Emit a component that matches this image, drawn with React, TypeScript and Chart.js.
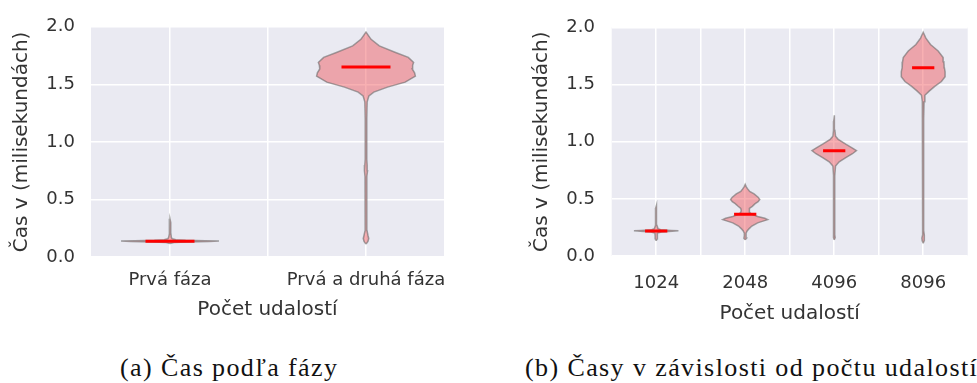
import { useEffect, useRef } from 'react';
import { Chart, registerables } from 'chart.js';

Chart.register(...registerables);

// ---------- data ----------
const leftCategories = ['Prvá fáza', 'Prvá a druhá fáza'];
const leftGridPositions = [0, 0.5, 1];
const leftMedians = [0.137, 1.651];
// violin outlines: time values (ms) and half-widths (category units)
const leftViolinValues = [
  [0.118, 0.126, 0.131, 0.135, 0.138, 0.141, 0.145, 0.15, 0.158, 0.17, 0.2, 0.26, 0.3, 0.332],
  [0.112, 0.135, 0.16, 0.19, 0.232, 0.3, 0.5, 0.7, 0.75, 0.8, 0.85, 1.0, 1.2, 1.348, 1.4, 1.433, 1.476, 1.519, 1.571, 1.6, 1.634, 1.665, 1.691, 1.734, 1.777, 1.834, 1.891, 1.954],
];
const leftViolinWidths = [
  [0, 0.02, 0.09, 0.2, 0.25, 0.18, 0.08, 0.03, 0.012, 0.007, 0.005, 0.004, 0.004, 0],
  [0, 0.01, 0.014, 0.01, 0.005, 0.004, 0.004, 0.005, 0.008, 0.006, 0.004, 0.004, 0.004, 0.006, 0.015, 0.04, 0.11, 0.2, 0.252, 0.248, 0.236, 0.238, 0.243, 0.216, 0.151, 0.068, 0.026, 0],
];

const rightCategories = ['1024', '2048', '4096', '8096'];
const rightGridPositions = [0, 0.5, 1, 1.5, 2, 2.5, 3];
const rightMedians = [0.219, 0.366, 0.922, 1.648];
const rightViolinValues = [
  [0.135, 0.15, 0.175, 0.2, 0.21, 0.216, 0.22, 0.224, 0.23, 0.24, 0.27, 0.35, 0.42, 0.445],
  [0.141, 0.155, 0.175, 0.2, 0.219, 0.24, 0.262, 0.29, 0.305, 0.318, 0.33, 0.346, 0.366, 0.382, 0.4, 0.416, 0.435, 0.458, 0.475, 0.495, 0.515, 0.543, 0.565, 0.585, 0.605, 0.627],
  [0.141, 0.16, 0.177, 0.25, 0.5, 0.7, 0.788, 0.824, 0.861, 0.895, 0.922, 0.945, 0.979, 1.021, 1.049, 1.1, 1.18, 1.232],
  [0.112, 0.135, 0.158, 0.185, 0.219, 0.4, 0.8, 1.2, 1.35, 1.407, 1.443, 1.485, 1.527, 1.57, 1.612, 1.648, 1.668, 1.7, 1.738, 1.795, 1.851, 1.907, 1.958],
];
const rightViolinWidths = [
  [0, 0.012, 0.012, 0.015, 0.06, 0.18, 0.25, 0.17, 0.05, 0.02, 0.008, 0.007, 0.006, 0],
  [0, 0.015, 0.01, 0.01, 0.022, 0.045, 0.075, 0.14, 0.2, 0.252, 0.22, 0.14, 0.07, 0.05, 0.045, 0.05, 0.08, 0.112, 0.145, 0.164, 0.145, 0.1, 0.05, 0.03, 0.012, 0],
  [0, 0.011, 0.008, 0.006, 0.006, 0.007, 0.015, 0.056, 0.13, 0.205, 0.25, 0.205, 0.13, 0.045, 0.015, 0.008, 0.006, 0],
  [0, 0.012, 0.015, 0.01, 0.006, 0.005, 0.005, 0.006, 0.01, 0.019, 0.067, 0.13, 0.205, 0.246, 0.246, 0.238, 0.235, 0.232, 0.224, 0.168, 0.082, 0.03, 0],
];

const yTickValues = [0, 0.5, 1, 1.5, 2];
const medianHalfWidth = 0.125;
const xTitle = 'Počet udalostí';
const yTitle = 'Čas v (milisekundách)';
const captionA = '(a) Čas podľa fázy';
const captionB = '(b) Časy v závislosti od počtu udalostí';

// ---------- styles ----------
const FONT = 'DejaVu Sans';
const TEXT = '#333333';
const PLOT_BG = '#EAEAF2';
const FILL = 'rgba(240, 80, 85, 0.45)';
const OUTLINE = 'rgba(105, 105, 105, 0.6)';

const bgPlugin = {
  id: 'plotBg',
  beforeDraw(chart: any) {
    const { ctx, chartArea } = chart;
    ctx.save();
    ctx.fillStyle = PLOT_BG;
    ctx.fillRect(chartArea.left, chartArea.top, chartArea.right - chartArea.left, chartArea.bottom - chartArea.top);
    ctx.restore();
  },
};

function buildDatasets(medians: number[], values: number[][], widths: number[][]) {
  const ds: any[] = [];
  medians.forEach((m, i) => {
    ds.push({
      data: [{ x: i - medianHalfWidth, y: m }, { x: i + medianHalfWidth, y: m }],
      showLine: true,
      borderColor: '#ff0000',
      borderWidth: 3,
      pointRadius: 0,
      fill: false,
      order: 1,
    });
  });
  values.forEach((vals, i) => {
    const ws = widths[i];
    const rightSide = vals.map((v, k) => ({ x: i + ws[k], y: v }));
    const leftSide = vals.map((v, k) => ({ x: i - ws[k], y: v })).reverse();
    ds.push({
      data: [...rightSide, ...leftSide, rightSide[0]],
      showLine: true,
      fill: 'shape',
      backgroundColor: FILL,
      borderColor: OUTLINE,
      borderWidth: 1.5,
      pointRadius: 0,
      tension: 0,
      order: 2,
    });
  });
  return ds;
}

type PanelProps = {
  left: number;
  width: number;
  height: number;
  categories: string[];
  gridPositions: number[];
  medians: number[];
  values: number[][];
  widths: number[][];
  xMin: number;
  xMax: number;
  padding: { left: number; right: number; top: number; bottom: number };
  yAxisWidth: number;
  xAxisHeight: number;
  xTickPadding: number;
  xTitlePadding: number;
  yTickPadding: number;
  yTitlePadding: number;
};

function ViolinPanel(p: PanelProps) {
  const ref = useRef<HTMLCanvasElement>(null);
  useEffect(() => {
    if (!ref.current) return;
    const chart = new Chart(ref.current, {
      type: 'scatter',
      data: { datasets: buildDatasets(p.medians, p.values, p.widths) },
      options: {
        responsive: false,
        animation: false,
        events: [],
        layout: { padding: p.padding },
        plugins: { legend: { display: false }, tooltip: { enabled: false } },
        scales: {
          x: {
            type: 'linear',
            min: p.xMin,
            max: p.xMax,
            afterBuildTicks: (s: any) => {
              s.ticks = p.gridPositions.map((v) => ({ value: v }));
            },
            afterFit: (s: any) => {
              s.height = p.xAxisHeight;
            },
            grid: { color: '#ffffff', lineWidth: 1.5, drawTicks: false },
            border: { display: false },
            ticks: {
              autoSkip: false,
              maxRotation: 0,
              padding: p.xTickPadding,
              color: TEXT,
              font: { family: FONT, size: 18 },
              callback: (v: any) => (Number.isInteger(v) ? p.categories[v] : ''),
            },
            title: {
              display: true,
              text: xTitle,
              color: TEXT,
              font: { family: FONT, size: 20 },
              padding: { top: 0, bottom: p.xTitlePadding },
            },
          },
          y: {
            type: 'linear',
            min: 0,
            max: 2,
            afterBuildTicks: (s: any) => {
              s.ticks = yTickValues.map((v) => ({ value: v }));
            },
            afterFit: (s: any) => {
              s.width = p.yAxisWidth;
            },
            grid: { color: '#ffffff', lineWidth: 1.5, drawTicks: false },
            border: { display: false },
            ticks: {
              padding: p.yTickPadding,
              color: TEXT,
              font: { family: FONT, size: 18 },
              callback: (v: any) => Number(v).toFixed(1),
            },
            title: {
              display: true,
              text: yTitle,
              color: TEXT,
              font: { family: FONT, size: 20 },
              padding: { top: p.yTitlePadding, bottom: 0 },
            },
          },
        },
      },
      plugins: [bgPlugin],
    } as any);
    return () => chart.destroy();
  }, []);
  return (
    <canvas
      ref={ref}
      width={p.width}
      height={p.height}
      style={{ position: 'absolute', left: p.left, top: 0, width: p.width, height: p.height, display: 'block' }}
    />
  );
}

const captionStyle: any = {
  position: 'absolute',
  top: 355,
  fontFamily: '"Liberation Serif", serif',
  fontSize: 26,
  lineHeight: '26px',
  letterSpacing: '1.4px',
  whiteSpace: 'nowrap',
  color: '#111',
};

export default function App() {
  return (
    <div style={{ position: 'absolute', left: 0, top: 0, width: 977, height: 383, background: '#fff', overflow: 'hidden' }}>
      <ViolinPanel
        left={0}
        width={470}
        height={335}
        categories={leftCategories}
        gridPositions={leftGridPositions}
        medians={leftMedians}
        values={leftViolinValues}
        widths={leftViolinWidths}
        xMin={-0.403}
        xMax={1.398}
        padding={{ left: 0, right: 26, top: 24, bottom: 0 }}
        yAxisWidth={91}
        xAxisHeight={78}
        xTickPadding={13}
        xTitlePadding={13}
        yTickPadding={16}
        yTitlePadding={9.7}
      />
      <ViolinPanel
        left={490}
        width={487}
        height={335}
        categories={rightCategories}
        gridPositions={rightGridPositions}
        medians={rightMedians}
        values={rightViolinValues}
        widths={rightViolinWidths}
        xMin={-0.5}
        xMax={3.5}
        padding={{ left: 30, right: 9.3, top: 19, bottom: 0 }}
        yAxisWidth={91.7}
        xAxisHeight={79}
        xTickPadding={17}
        xTitlePadding={9.7}
        yTickPadding={16.7}
        yTitlePadding={9.7}
      />
      <div style={{ ...captionStyle, left: 120 }}>{captionA}</div>
      <div style={{ ...captionStyle, left: 525 }}>{captionB}</div>
    </div>
  );
}
